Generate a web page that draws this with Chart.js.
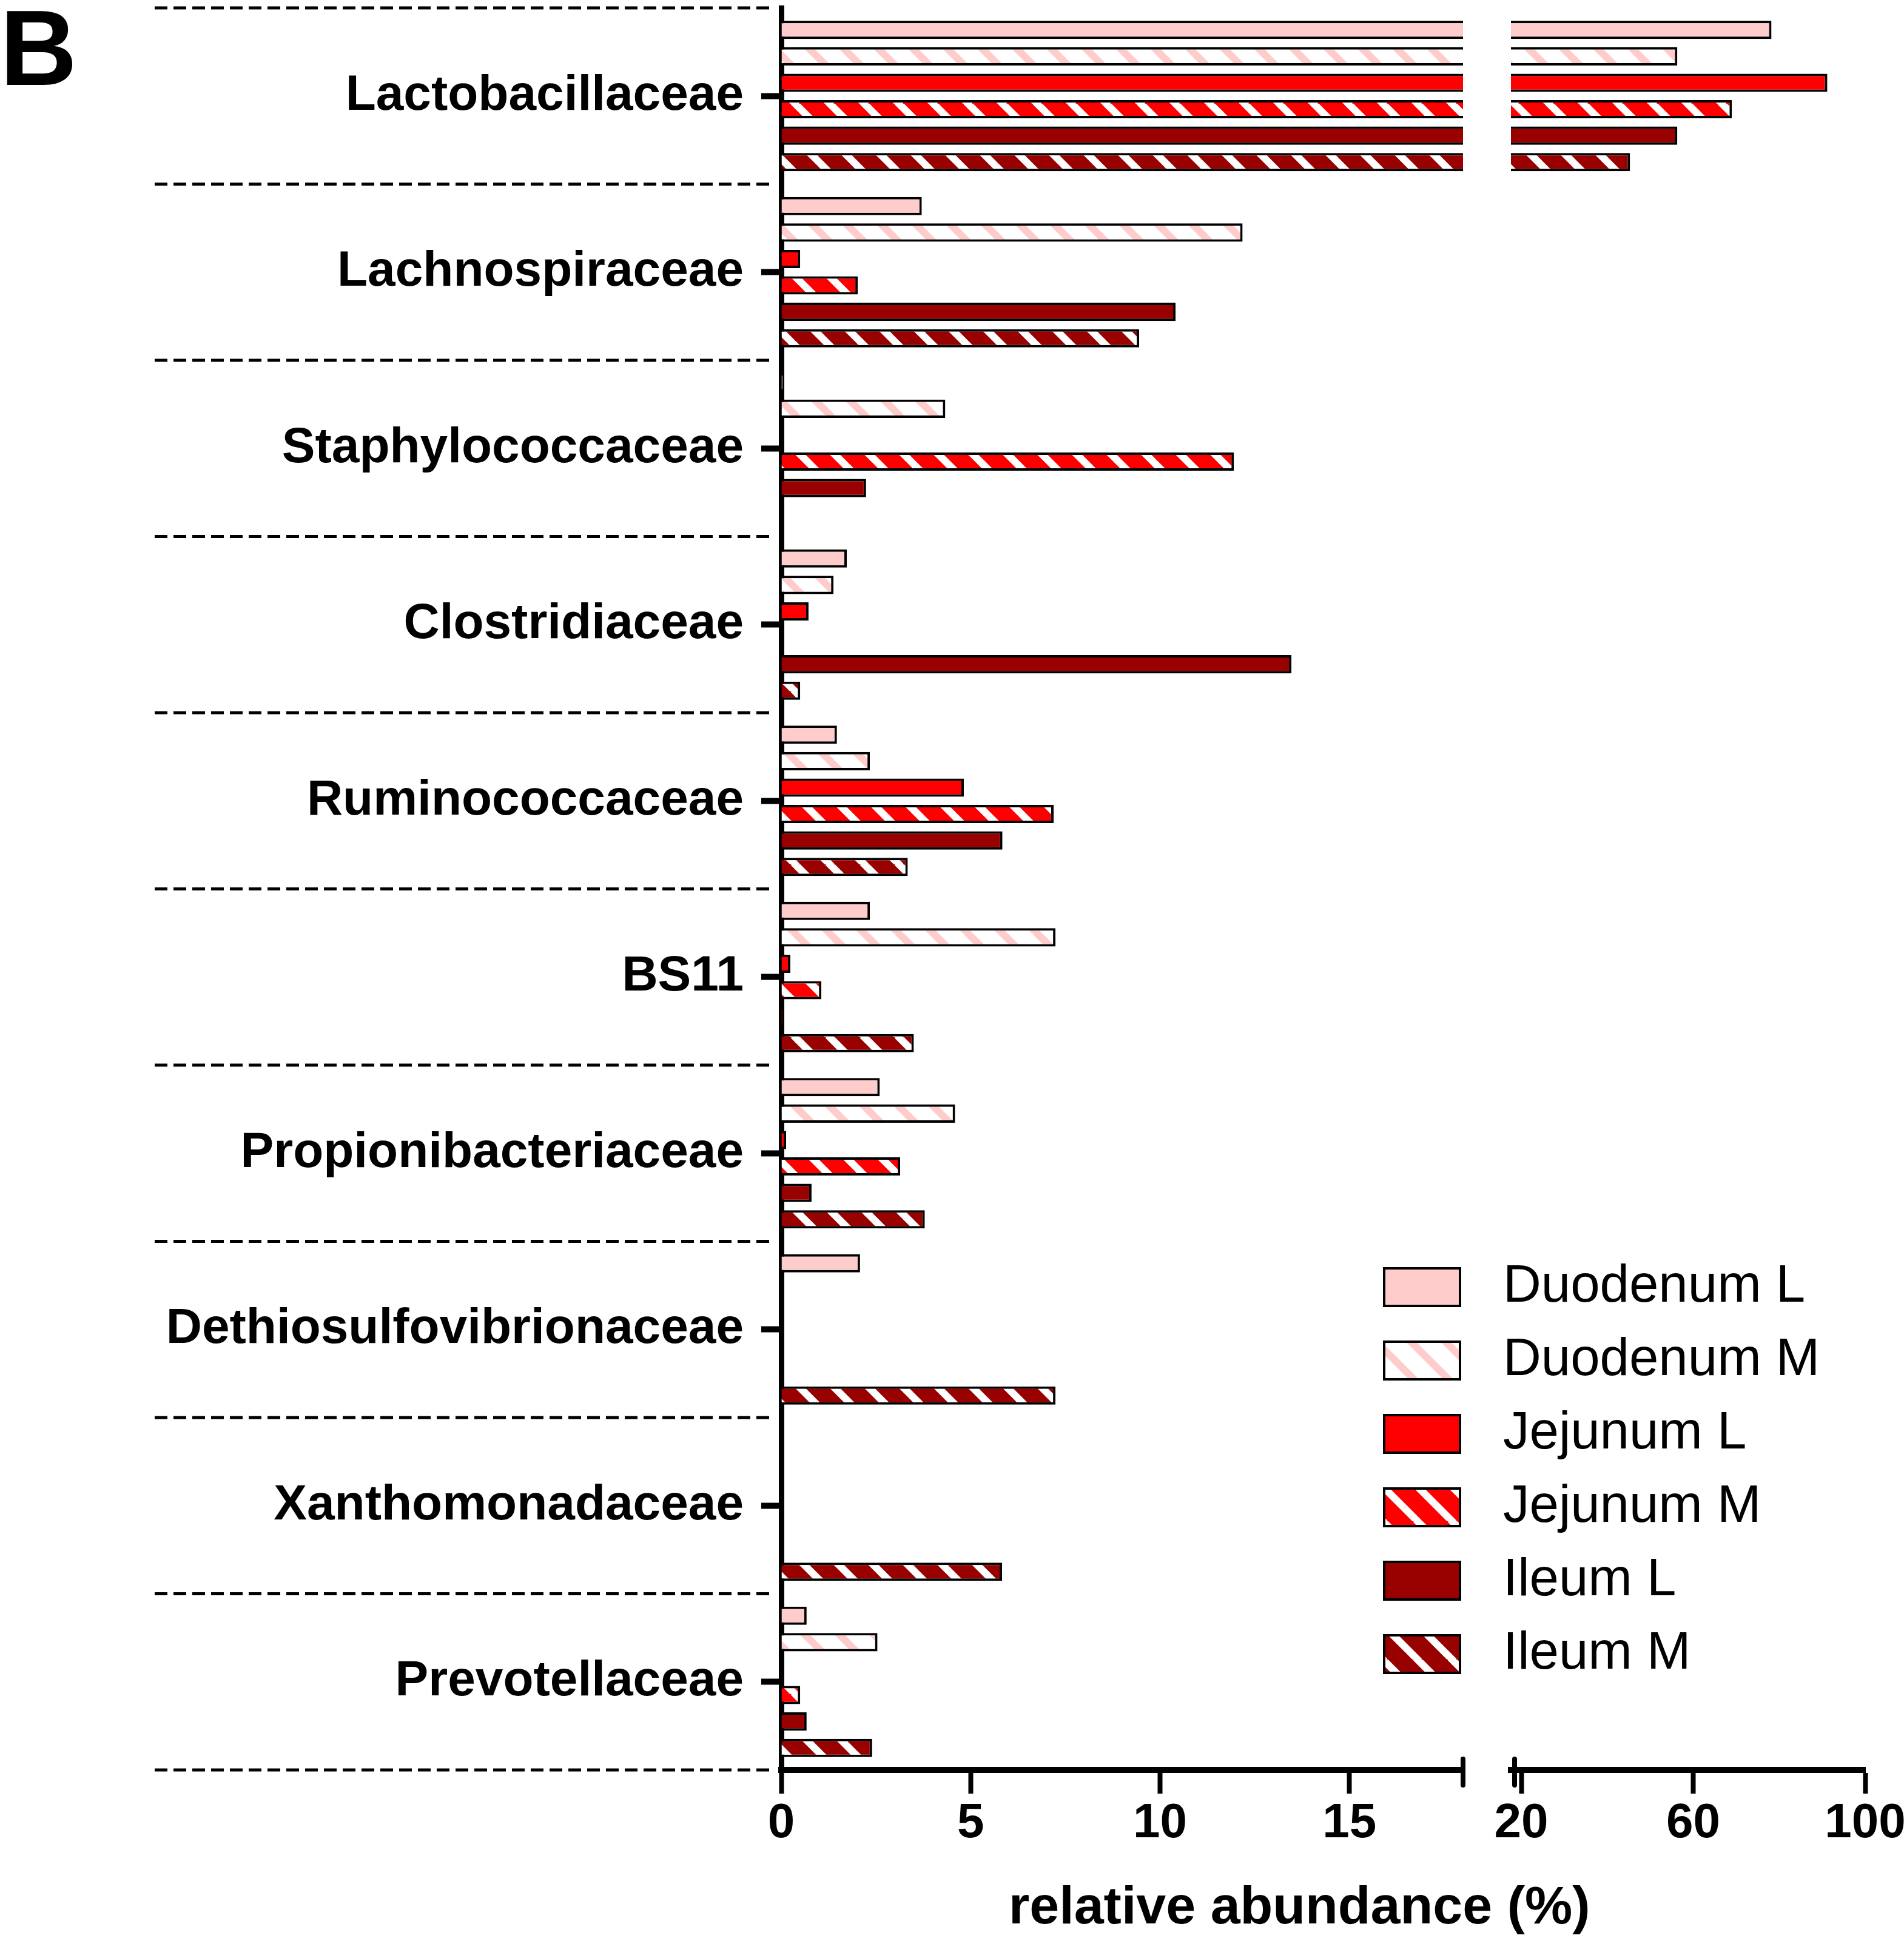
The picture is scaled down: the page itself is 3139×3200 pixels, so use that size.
<!DOCTYPE html>
<html>
<head>
<meta charset="utf-8">
<script src="https://cdn.jsdelivr.net/npm/chart.js@4.4.1/dist/chart.umd.min.js"></script>
<style>
  html, body { margin: 0; padding: 0; background: #fff; overflow: hidden; }
  #wrap { position: relative; width: 3139px; height: 3200px; }
  #left { position: absolute; left: 0; top: 0; }
  #right { position: absolute; left: 2440px; top: 0; }
  .txt { position: absolute; font-family: "Liberation Sans", Arial, sans-serif; font-weight: bold; line-height: 1; white-space: nowrap; color: #000; }
  #panel { left: 0; top: -9px; font-size: 176px; }
  #xtitle { left: 1663px; top: 3097px; font-size: 88px; }
</style>
</head>
<body>
<div id="wrap">
  <canvas id="left" width="3139" height="3200"></canvas>
  <canvas id="right" width="699" height="3200"></canvas>
  <div class="txt" id="panel">B</div>
  <div class="txt" id="xtitle">relative abundance (%)</div>
</div>
<script>
// families, top to bottom
const families = ["Lactobacillaceae", "Lachnospiraceae", "Staphylococcaceae", "Clostridiaceae",
  "Ruminococcaceae", "BS11", "Propionibacteriaceae", "Dethiosulfovibrionaceae",
  "Xanthomonadaceae", "Prevotellaceae"];
const groups = ["Duodenum L", "Duodenum M", "Jejunum L", "Jejunum M", "Ileum L", "Ileum M"];

// relative abundance (%)
const duodenumL = [78.2, 3.71, 0.05, 1.73, 1.47, 2.34, 2.60, 2.08, 0, 0.67];
const duodenumM = [56.3, 12.18, 4.33, 1.38, 2.34, 7.24, 4.59, 0, 0, 2.54];
const jejunumL  = [91.2, 0.50, 0, 0.72, 4.82, 0.24, 0.13, 0, 0, 0];
const jejunumM  = [69.0, 2.02, 11.95, 0, 7.19, 1.06, 3.14, 0, 0, 0.50];
const ileumL    = [56.3, 10.41, 2.24, 13.47, 5.84, 0.04, 0.80, 0, 0, 0.67];
const ileumM    = [45.3, 9.45, 0, 0.50, 3.34, 3.50, 3.79, 7.24, 5.83, 2.40];

// broken x axis: low part and high part
const lowMax = 18;
const lowStep = 5;
const highMin = 17.6;
const highMax = 100;
const highTicks = [20, 60, 100];

Chart.defaults.font.family = '"Liberation Sans", Arial, sans-serif';
Chart.defaults.color = "#000";

function hatch(bg, stripe) {
    const size = 57;
    const c = document.createElement("canvas");
    c.width = size; c.height = size;
    const g = c.getContext("2d");
    g.fillStyle = bg;
    g.fillRect(0, 0, size, size);
    g.strokeStyle = stripe;
    g.lineWidth = 12;
    for (let k = -1; k <= 1; k++) {
        g.beginPath();
        g.moveTo(k * size - 3, -3);
        g.lineTo(k * size + size + 3, size + 3);
        g.stroke();
    }
    return g.createPattern(c, "repeat");
}

const fills = [
    "#ffcccc",
    hatch("#ffffff", "#ffcccc"),
    "#ff0000",
    hatch("#ff0000", "#ffffff"),
    "#990000",
    hatch("#990000", "#ffffff")
];
const values = [duodenumL, duodenumM, jejunumL, jejunumM, ileumL, ileumM];

function makeDatasets() {
    return groups.map((g, i) => ({
        label: g,
        data: values[i].map(v => v === 0 ? null : v),
        backgroundColor: fills[i],
        borderColor: "#000",
        borderWidth: 4,
        clip: 0,
        categoryPercentage: 0.9,
        barPercentage: 0.69
    }));
}

// no extra room for edge labels, both charts must share the same plot rows
function noPad(s) {
    s.paddingTop = 0;
    s.paddingBottom = 0;
    s.paddingLeft = 0;
    s.paddingRight = 0;
}

// dashed separators between families, drawn in the label column
const familyDashes = {
    id: "familyDashes",
    afterDraw(chart) {
        const y = chart.scales.y, area = chart.chartArea, ctx = chart.ctx;
        const half = (y.getPixelForValue(1) - y.getPixelForValue(0)) / 2;
        const rows = families.map((f, i) => y.getPixelForValue(i) - half);
        rows.push(area.bottom);
        ctx.save();
        ctx.setLineDash([21, 10]);
        ctx.lineWidth = 5;
        ctx.strokeStyle = "#000";
        rows.forEach(py => {
            ctx.beginPath();
            ctx.moveTo(255, py);
            ctx.lineTo(area.left - 12, py);
            ctx.stroke();
        });
        ctx.restore();
    }
};

// the short bars marking the axis break
const axisBreak = {
    id: "axisBreak",
    afterDraw(chart, args, opts) {
        const area = chart.chartArea, ctx = chart.ctx;
        const x = opts.side === "end" ? area.right : area.left + 6;
        ctx.save();
        ctx.lineWidth = 8;
        ctx.lineCap = "round";
        ctx.strokeStyle = "#000";
        ctx.beginPath();
        ctx.moveTo(x, area.bottom - 18);
        ctx.lineTo(x, area.bottom + 25);
        ctx.stroke();
        ctx.restore();
    }
};

// legend in the lower right of the plot
const boxLegend = {
    id: "boxLegend",
    afterDraw(chart) {
        const ctx = chart.ctx;
        ctx.save();
        ctx.font = '87px "Liberation Sans", Arial, sans-serif';
        ctx.textBaseline = "middle";
        chart.data.datasets.forEach((ds, i) => {
            const cy = 2122 + i * 121;
            ctx.fillStyle = ds.backgroundColor;
            ctx.fillRect(2282, cy - 31, 125, 62);
            ctx.lineWidth = 4;
            ctx.strokeStyle = "#000";
            ctx.strokeRect(2282, cy - 31, 125, 62);
            ctx.fillStyle = "#000";
            ctx.fillText(ds.label, 2478, cy);
        });
        ctx.restore();
    }
};

const xTicks = { color: "#000", font: { size: 80, weight: "bold" }, padding: 2, maxRotation: 0 };
const xGrid = { drawOnChartArea: false, drawTicks: true, tickLength: 39, tickWidth: 8, tickColor: "#000" };
const xBorder = { display: true, width: 10, color: "#000" };

new Chart(document.getElementById("left"), {
    type: "bar",
    data: { labels: families, datasets: makeDatasets() },
    plugins: [familyDashes, axisBreak, boxLegend],
    options: {
        indexAxis: "y",
        responsive: false,
        animation: false,
        devicePixelRatio: 1,
        layout: { autoPadding: false, padding: { top: 13, right: 727, left: 0, bottom: 0 } },
        plugins: {
            legend: { display: false },
            tooltip: { enabled: false },
            axisBreak: { side: "end" }
        },
        scales: {
            x: {
                type: "linear", min: 0, max: lowMax,
                ticks: Object.assign({ stepSize: lowStep, includeBounds: false }, xTicks),
                grid: xGrid,
                border: xBorder,
                afterFit(s) { s.height = 282; noPad(s); }
            },
            y: {
                type: "category",
                ticks: { color: "#000", font: { size: 82, weight: "bold" }, padding: 29, autoSkip: false },
                grid: { offset: false, drawOnChartArea: false, drawTicks: true, tickLength: 33, tickWidth: 10, tickColor: "#000" },
                border: { display: true, width: 9, color: "#000" },
                afterFit(s) { s.width = 1288; noPad(s); }
            }
        }
    }
});

new Chart(document.getElementById("right"), {
    type: "bar",
    data: { labels: families, datasets: makeDatasets() },
    plugins: [axisBreak],
    options: {
        indexAxis: "y",
        responsive: false,
        animation: false,
        devicePixelRatio: 1,
        layout: { autoPadding: false, padding: { top: 13, right: 64, left: 51, bottom: 0 } },
        plugins: {
            legend: { display: false },
            tooltip: { enabled: false },
            axisBreak: { side: "start" }
        },
        scales: {
            x: {
                type: "linear", min: highMin, max: highMax,
                afterBuildTicks(s) { s.ticks = highTicks.map(v => ({ value: v })); },
                ticks: xTicks,
                grid: xGrid,
                border: xBorder,
                afterFit(s) { s.height = 282; noPad(s); }
            },
            y: { type: "category", display: false }
        }
    }
});
</script>
</body>
</html>
